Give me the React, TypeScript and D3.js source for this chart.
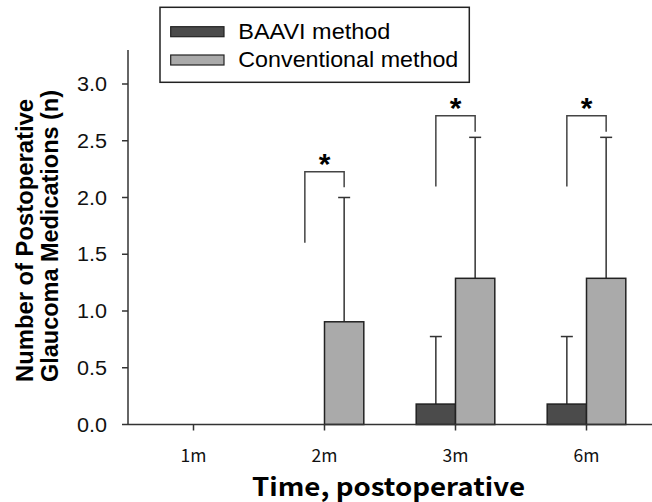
import React from "react";
import * as d3 from "d3";

const categories = ["1m", "2m", "3m", "6m"];
const baaviMean = [0, 0, 0.18, 0.18];
const baaviErrTop = [0, 0, 0.775, 0.775];
const convMean = [0, 0.905, 1.288, 1.288];
const convErrTop = [0, 2.0, 2.53, 2.53];
const yTicks = [0, 0.5, 1.0, 1.5, 2.0, 2.5, 3.0];

// significance brackets: category, top value, left leg end, right leg end
const sigCats = ["2m", "3m", "6m"];
const sigTop = [2.227, 2.72, 2.72];
const sigLeftEnd = [1.602, 2.097, 2.097];
const sigRightEnd = [2.09, 2.58, 2.58];

const seriesNames = ["BAAVI method", "Conventional method"];
const seriesColors = ["#4b4b4b", "#aaaaaa"];

const W = 652;
const H = 502;

export default function App() {
  const x = d3.scalePoint<string>().domain(categories).range([128, 652]).padding(0.5);
  const step = x.step();
  const bw = step * 0.3;
  const y = d3.scaleLinear().domain([0, 3.3]).range([424.5, 424.5 - 3.3 * 113.5]);
  const axisColor = "#333";
  const capW = 12;

  return (
    <svg width={W} height={H} style={{ position: "absolute", left: 0, top: 0, background: "#fff" }}>
      {/* bars */}
      {categories.map((c, i) => {
        const cx = x(c)!;
        return (
          <g key={c}>
            {baaviMean[i] > 0 && (
              <g>
                <line x1={cx - bw / 2} x2={cx - bw / 2} y1={y(baaviMean[i])} y2={y(baaviErrTop[i])} stroke="#333" strokeWidth={1.5} />
                <line x1={cx - bw / 2 - capW / 2} x2={cx - bw / 2 + capW / 2} y1={y(baaviErrTop[i])} y2={y(baaviErrTop[i])} stroke="#333" strokeWidth={1.5} />
                <rect x={cx - bw} y={y(baaviMean[i])} width={bw} height={y(0) - y(baaviMean[i])} fill={seriesColors[0]} stroke="#222" strokeWidth={1.5} />
              </g>
            )}
            {convMean[i] > 0 && (
              <g>
                <line x1={cx + bw / 2} x2={cx + bw / 2} y1={y(convMean[i])} y2={y(convErrTop[i])} stroke="#333" strokeWidth={1.5} />
                <line x1={cx + bw / 2 - capW / 2} x2={cx + bw / 2 + capW / 2} y1={y(convErrTop[i])} y2={y(convErrTop[i])} stroke="#333" strokeWidth={1.5} />
                <rect x={cx} y={y(convMean[i])} width={bw} height={y(0) - y(convMean[i])} fill={seriesColors[1]} stroke="#222" strokeWidth={1.5} />
              </g>
            )}
          </g>
        );
      })}

      {/* brackets */}
      {sigCats.map((c, i) => {
        const cx = x(c)!;
        const lx = cx - bw / 2;
        const rx = cx + bw / 2;
        const d = `M${lx},${y(sigLeftEnd[i])}V${y(sigTop[i])}H${rx}V${y(sigRightEnd[i])}`;
        return (
          <g key={"s" + c}>
            <path d={d} fill="none" stroke="#444" strokeWidth={1.5} />
            <text x={cx} y={y(sigTop[i]) + 2} textAnchor="middle" fontFamily="Liberation Sans, Arial" fontWeight="bold" fontSize={30}>*</text>
          </g>
        );
      })}

      {/* y axis */}
      <line x1={128} x2={128} y1={y(3.3)} y2={y(0)} stroke={axisColor} strokeWidth={1.5} />
      {yTicks.map((t) => (
        <g key={t}>
          <line x1={122} x2={128} y1={y(t)} y2={y(t)} stroke={axisColor} strokeWidth={1.5} />
          <text x={107} y={y(t) + 7} textAnchor="end" fontFamily="Liberation Sans, Arial" fontSize={20} textLength={30} lengthAdjust="spacingAndGlyphs" fill="#111">{t.toFixed(1)}</text>
        </g>
      ))}

      {/* x axis */}
      <line x1={128} x2={652} y1={y(0)} y2={y(0)} stroke={axisColor} strokeWidth={1.5} />
      {categories.map((c) => (
        <g key={"x" + c}>
          <line x1={x(c)!} x2={x(c)!} y1={y(0)} y2={y(0) + 6} stroke={axisColor} strokeWidth={1.5} />
          <text x={x(c)!} y={462} textAnchor="middle" fontFamily="Noto Sans CJK KR, Noto Sans" fontSize={17.5} fill="#111">{c}</text>
        </g>
      ))}

      {/* axis titles */}
      <text x={388.5} y={495.5} textAnchor="middle" fontFamily="Noto Sans CJK KR, Noto Sans" fontWeight="bold" fontSize={25} textLength={273} lengthAdjust="spacingAndGlyphs" fill="#000">Time, postoperative</text>
      <g transform="translate(33,382) rotate(-90)">
        <text x={0} y={0} fontFamily="Liberation Sans, Arial" fontWeight="bold" fontSize={24} textLength={283} lengthAdjust="spacingAndGlyphs" fill="#000">Number of Postoperative</text>
        <text x={0} y={24.5} fontFamily="Liberation Sans, Arial" fontWeight="bold" fontSize={24} textLength={292} lengthAdjust="spacingAndGlyphs" fill="#000">Glaucoma Medications (n)</text>
      </g>

      {/* legend */}
      <rect x={160} y={7.3} width={309.3} height={75} fill="#fff" stroke="#222" strokeWidth={1.5} />
      {seriesNames.map((n, i) => (
        <g key={n}>
          <rect x={170.7} y={[26.7, 55][i]} width={53.3} height={10} fill={seriesColors[i]} stroke="#222" strokeWidth={1.2} />
          <text x={238.3} y={[39, 67][i]} fontFamily="Liberation Sans, Arial" fontSize={22.5} textLength={[152, 220][i]} lengthAdjust="spacingAndGlyphs" fill="#000">{n}</text>
        </g>
      ))}
    </svg>
  );
}
